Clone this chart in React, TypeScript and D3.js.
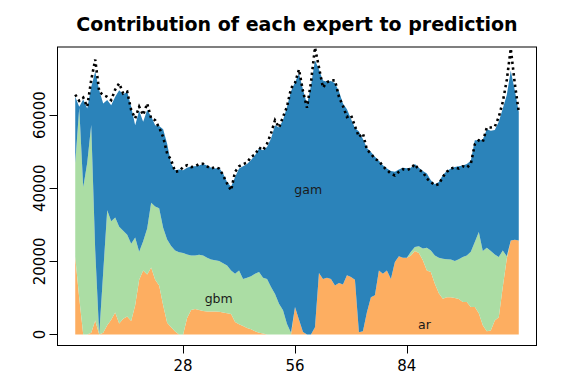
import React from "react";
import * as d3 from "d3";

const TITLE = "Contribution of each expert to prediction";
const SERIES = ["ar", "gbm", "gam"];
const COLORS = ["#fdae61", "#abdda4", "#2b83ba"];
const X_TICKS = [28, 56, 84];
const Y_TICKS = [0, 20000, 40000, 60000];

const ar = [21200,10000,0,0,500,3800,0,500,2500,4000,6000,3000,4300,4900,3700,8000,15000,17500,16400,18300,15000,13400,8000,3200,2000,800,0,0,4500,6700,7000,6700,6400,6300,6300,6300,6200,6000,5800,5600,3400,2800,2300,1800,1400,900,500,300,0,0,0,0,0,0,0,7500,4000,700,0,0,2000,16800,15200,15500,15200,13400,14100,13700,16200,15700,15000,600,900,6100,10200,10700,17500,16600,17500,15200,19800,21400,21000,21000,21600,22800,22300,20300,17500,17100,13900,11300,9800,10200,10200,10000,9700,8900,8900,7500,7500,5800,2500,900,1100,3800,4700,13000,20700,25700,25900,25700];
const gbm = [25600,52000,40300,47000,56800,19200,0,16500,31500,27000,26000,26500,24100,22400,21100,18500,7600,8000,12600,17700,20000,21100,21200,22800,22200,22200,22500,22300,17400,14900,14600,15100,15200,14700,14200,14000,13900,13500,13100,11900,13200,14700,12900,13700,14500,15700,16600,15200,15200,13000,11100,8400,6600,2900,500,0,0,0,0,0,0,0,0,0,0,0,0,0,0,0,0,0,0,0,0,0,0,0,0,0,0,0,0,0,1000,1100,1800,3200,6200,5900,7700,9700,10900,10400,10300,10100,10900,12300,12700,15100,17800,22200,20300,22800,21700,18100,16500,10000,700,0,0,0];
const gam = [18200,300,24000,14800,10400,48900,66800,46200,30100,31700,33000,37300,37300,39100,37500,30700,38600,32700,32400,23700,22200,22500,26900,26200,22500,21900,22600,22600,23700,24400,24400,24400,25000,25200,25100,25100,25500,24500,22800,22900,26500,27900,30800,31100,31800,32400,33800,34900,36100,40600,46100,48200,52000,59400,66000,61500,67400,66300,63000,68000,73000,55700,54300,53600,54100,55300,52400,49500,45400,43300,41500,54900,52600,44900,39700,37900,30000,29700,27900,29500,24700,23700,24600,24500,23000,22700,21500,21200,20300,19200,19500,20700,22900,24100,24900,25700,25400,25000,25000,24900,27800,25100,30500,32400,32900,34000,37000,38800,44100,46400,40900,35200];
const observed = [65600,63900,64800,62300,69600,75200,66400,65500,65000,64100,67000,68700,65900,66400,61400,59100,62300,60000,63200,59100,58600,56600,54000,49500,47700,44500,44700,45800,46300,45800,46000,46600,46700,46000,45400,45800,45400,43600,41300,39400,44500,46000,46600,47000,48600,49200,51100,50400,52200,55000,58600,56600,59500,62300,67300,68800,72500,66500,62000,69000,78500,73000,67500,69000,69500,69500,65000,62500,59500,60000,57000,54000,55000,50500,49500,48000,47500,46000,45000,44000,43500,44500,45200,45000,45400,46600,45000,44500,42600,41700,40800,41100,43100,44500,45400,45700,45400,46000,45600,46700,52000,53100,52700,56600,56600,56800,59500,63600,69600,78200,68700,60900];

const LABELS = [
  { text: "gam", t: 59.3, v: 38500 },
  { text: "gbm", t: 36.9, v: 8700 },
  { text: "ar", t: 88.4, v: 1600 },
];

export default function App() {
  const W = 576, H = 384;
  const left = 57.5, right = 536.5, top = 47, bottom = 345.5;
  const n = ar.length;
  const pad = (n - 1) * 0.04;
  const x = d3.scaleLinear().domain([1 - pad, n + pad]).range([left, right]);
  const y = d3.scaleLinear().domain([-3014, 78630]).range([bottom, top]);

  const rows = ar.map((_, i) => ({ t: i + 1, ar: ar[i], gbm: gbm[i], gam: gam[i] }));
  const stacked = d3.stack<any>().keys(SERIES)(rows);
  const area = d3
    .area<any>()
    .x((d) => x(d.data.t))
    .y0((d) => y(d[0]))
    .y1((d) => y(d[1]));
  const line = d3
    .line<number>()
    .x((_, i) => x(i + 1))
    .y((d) => y(d));

  const font = "DejaVu Sans, sans-serif";

  return (
    <svg width={W} height={H} style={{ position: "absolute", left: 0, top: 0, background: "#fff" }}>
      <rect x={0} y={0} width={W} height={H} fill="#fff" />
      {stacked.map((s, k) => (
        <path key={SERIES[k]} d={area(s) || ""} fill={COLORS[k]} stroke="none" />
      ))}
      <path
        d={line(observed) || ""}
        fill="none"
        stroke="#000"
        strokeWidth={2.6}
        strokeDasharray="2.4,3.4"
      />
      {LABELS.map((l) => (
        <text key={l.text} x={x(l.t)} y={y(l.v)} textAnchor="middle" fontFamily={font} fontSize={12.5} fill="#1a1a1a">
          {l.text}
        </text>
      ))}
      <rect x={left} y={top} width={right - left} height={bottom - top} fill="none" stroke="#000" strokeWidth={1} />
      {Y_TICKS.map((v) => (
        <g key={v}>
          <line x1={left - 8} x2={left} y1={Math.round(y(v)) + 0.5} y2={Math.round(y(v)) + 0.5} stroke="#000" />
          <text
            transform={`translate(${left - 12.5},${y(v)}) rotate(-90)`}
            textAnchor="middle"
            fontFamily={font}
            fontSize={15}
            fill="#000"
          >
            {v}
          </text>
        </g>
      ))}
      {X_TICKS.map((t) => (
        <g key={t}>
          <line x1={Math.round(x(t)) + 0.5} x2={Math.round(x(t)) + 0.5} y1={bottom} y2={bottom + 8} stroke="#000" />
          <text x={x(t)} y={bottom + 25.5} textAnchor="middle" fontFamily={font} fontSize={15} fill="#000">
            {t}
          </text>
        </g>
      ))}
      <text x={(left + right) / 2} y={30.5} textAnchor="middle" fontFamily={font} fontWeight="bold" fontSize={19} fill="#000">
        {TITLE}
      </text>
    </svg>
  );
}
